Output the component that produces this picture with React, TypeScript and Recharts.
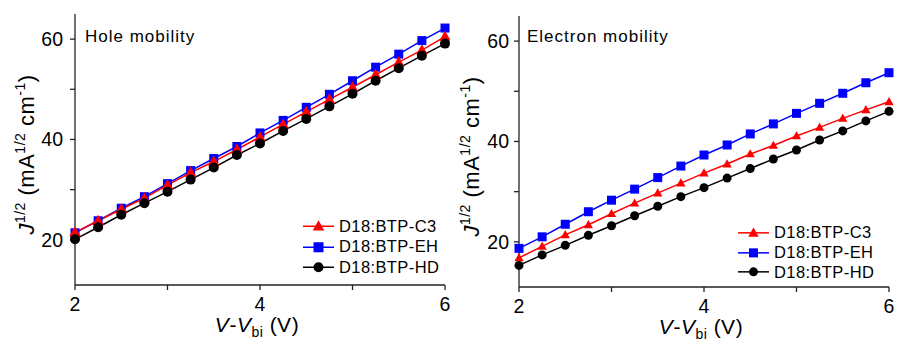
import React from 'react';
import { LineChart, Line, XAxis, YAxis, Legend } from 'recharts';

const FONT = '"Liberation Sans", Arial, sans-serif';

// bias voltage V - Vbi (V)
const voltages = [2, 2.25, 2.5, 2.75, 3, 3.25, 3.5, 3.75, 4, 4.25, 4.5, 4.75, 5, 5.25, 5.5, 5.75, 6];

// hole-only devices, J^1/2
const holeC3 = [21.5, 23.8, 26.1, 28.3, 30.9, 33.4, 35.6, 38.0, 40.5, 43.0, 45.5, 48.0, 50.4, 52.9, 55.4, 57.8, 60.5];
const holeEH = [21.4, 23.8, 26.3, 28.6, 31.2, 33.8, 36.2, 38.6, 41.3, 43.8, 46.4, 49.0, 51.7, 54.4, 57.0, 59.7, 62.2];
const holeHD = [20.1, 22.5, 25.0, 27.3, 29.6, 32.0, 34.4, 36.9, 39.2, 41.7, 44.1, 46.6, 49.1, 51.7, 54.2, 56.7, 59.1];

// electron-only devices, J^1/2
const elecC3 = [16.8, 19.1, 21.4, 23.4, 25.6, 27.7, 29.7, 31.7, 33.7, 35.5, 37.5, 39.2, 41.1, 42.8, 44.6, 46.3, 47.9];
const elecEH = [18.7, 21.0, 23.5, 26.0, 28.3, 30.5, 32.8, 35.1, 37.3, 39.3, 41.5, 43.5, 45.6, 47.6, 49.6, 51.7, 53.7];
const elecHD = [15.3, 17.4, 19.3, 21.3, 23.2, 25.2, 27.1, 29.0, 30.8, 32.7, 34.6, 36.5, 38.3, 40.3, 42.1, 44.1, 46.0];

const xTicks = [2, 3, 4, 5, 6];
const yTicks = [20, 30, 40, 50, 60];

type Shape = 'triangle' | 'square' | 'circle';
const series = [
  { key: 'c3', name: 'D18:BTP-C3', color: '#ff0000', shape: 'triangle' as Shape },
  { key: 'eh', name: 'D18:BTP-EH', color: '#0000ff', shape: 'square' as Shape },
  { key: 'hd', name: 'D18:BTP-HD', color: '#000000', shape: 'circle' as Shape },
];
// draw order: blue under red under black
const drawOrder = ['eh', 'c3', 'hd'];

const marker = (shape: Shape, cx: number, cy: number, s: number, color: string, key?: any) => {
  if (shape === 'square') {
    return <rect key={key} x={cx - s / 2} y={cy - s / 2} width={s} height={s} fill={color} />;
  }
  if (shape === 'circle') {
    return <circle key={key} cx={cx} cy={cy} r={s / 2} fill={color} />;
  }
  return (
    <polygon
      key={key}
      points={`${cx},${cy - s * 0.6} ${cx - s * 0.58},${cy + s * 0.42} ${cx + s * 0.58},${cy + s * 0.42}`}
      fill={color}
    />
  );
};

const makeDot = (shape: Shape, color: string, s: number) => (props: any) => {
  const { cx, cy, index } = props;
  if (cx == null || cy == null) return <g key={index} />;
  return marker(shape, cx, cy, s, color, index);
};

const YLabel = ({ x, cy }: { x: number; cy: number }) => (
  <text
    x={x}
    y={cy}
    transform={`rotate(-90, ${x}, ${cy})`}
    textAnchor="middle"
    fontFamily={FONT}
    fontSize={22}
    letterSpacing={0.5}
    fill="#000"
  >
    <tspan fontStyle="italic">J</tspan>
    <tspan fontSize={14} dy={-9}>1/2</tspan>
    <tspan dy={9}> (mA</tspan>
    <tspan fontSize={14} dy={-9}>1/2</tspan>
    <tspan dy={9}> cm</tspan>
    <tspan fontSize={14} dy={-9}>-1</tspan>
    <tspan dy={9}>)</tspan>
  </text>
);

const XLabel = ({ cx, y }: { cx: number; y: number }) => (
  <text x={cx} y={y} textAnchor="middle" fontFamily={FONT} fontSize={21} letterSpacing={0.5} fill="#000">
    <tspan fontStyle="italic">V</tspan>
    <tspan>-</tspan>
    <tspan fontStyle="italic">V</tspan>
    <tspan fontSize={14} dy={5}>bi</tspan>
    <tspan dy={-5}> (V)</tspan>
  </text>
);

const LegendBox = ({ size, rowH }: { size: number; rowH: number }) => (
  <div style={{ fontFamily: FONT, fontSize: 16.5, color: '#000' }}>
    {series.map((s) => (
      <div key={s.key} style={{ display: 'flex', alignItems: 'center', height: rowH }}>
        <svg width={31} height={rowH}>
          <line x1={0} y1={rowH / 2} x2={31} y2={rowH / 2} stroke={s.color} strokeWidth={1.5} />
          {marker(s.shape, 15.5, rowH / 2, size, s.color)}
        </svg>
        <span style={{ marginLeft: 5, letterSpacing: 0.4 }}>{s.name}</span>
      </div>
    ))}
  </div>
);

interface PanelProps {
  c3: number[];
  eh: number[];
  hd: number[];
  width: number;
  margin: { top: number; right: number; left: number; bottom: number };
  yAxisWidth: number;
  xAxisHeight: number;
  yTickMargin: number;
  yLabelX: number;
  xLabelY: number;
  legendPos: { left: number; top: number };
  legendRow: number;
  sizes: { [k: string]: number };
}

const Panel = (p: PanelProps) => {
  const data = voltages.map((v, i) => ({ v, c3: p.c3[i], eh: p.eh[i], hd: p.hd[i] }));
  const tickStyle = { fontFamily: FONT, fontSize: 19.5, fill: '#000' };
  return (
    <LineChart width={p.width} height={345} data={data} margin={p.margin}>
      <XAxis
        dataKey="v"
        type="number"
        domain={[2, 6]}
        ticks={xTicks}
        tickFormatter={(v: number) => (v % 2 === 0 ? String(v) : '')}
        height={p.xAxisHeight}
        tickSize={5}
        tickMargin={7}
        tick={tickStyle}
        stroke="#222"
        strokeWidth={1.3}
        label={{
          content: (lp: any) => {
            const vb = lp.viewBox;
            return <XLabel cx={vb.x + vb.width / 2 - 3} y={p.xLabelY} />;
          },
        }}
      />
      <XAxis xAxisId="top" orientation="top" type="number" domain={[2, 6]} height={0} tick={false} tickLine={false} stroke="#222" strokeWidth={1.3} />
      <YAxis
        type="number"
        domain={[11, 65]}
        ticks={yTicks}
        tickFormatter={(v: number) => (v % 20 === 0 ? String(v) : '')}
        width={p.yAxisWidth}
        tickSize={5}
        tickMargin={p.yTickMargin}
        tick={tickStyle}
        stroke="#222"
        strokeWidth={1.3}
        label={{
          content: (lp: any) => {
            const vb = lp.viewBox;
            return <YLabel x={p.yLabelX} cy={vb.y + vb.height / 2 + 5} />;
          },
        }}
      />
      <YAxis yAxisId="right" orientation="right" type="number" domain={[11, 65]} width={0} tick={false} tickLine={false} stroke="#222" strokeWidth={1.3} />
      {drawOrder.map((k) => {
        const s = series.find((x) => x.key === k)!;
        return (
          <Line
            key={k}
            dataKey={k}
            name={s.name}
            stroke={s.color}
            strokeWidth={1.5}
            dot={makeDot(s.shape, s.color, p.sizes[k])}
            activeDot={false}
            isAnimationActive={false}
            type="linear"
          />
        );
      })}
      <Legend
        layout="horizontal"
        verticalAlign="middle"
        align="center"
        content={() => <LegendBox size={p.sizes.legend} rowH={p.legendRow} />}
        wrapperStyle={{ left: p.legendPos.left, top: p.legendPos.top, width: 'auto', height: 'auto' }}
      />
    </LineChart>
  );
};

export default function App() {
  return (
    <div style={{ position: 'absolute', left: 0, top: 0, width: 897, height: 345, background: '#fff' }}>
      <div style={{ position: 'absolute', left: 0, top: 0 }}>
        <Panel
          c3={holeC3}
          eh={holeEH}
          hd={holeHD}
          width={450}
          margin={{ top: 14, right: 5, left: 0, bottom: 0 }}
          yAxisWidth={75}
          xAxisHeight={60}
          yTickMargin={7}
          yLabelX={34}
          xLabelY={332}
          legendPos={{ left: 303, top: 216 }}
          legendRow={20.5}
          sizes={{ c3: 10, eh: 9, hd: 10, legend: 10 }}
        />
      </div>
      <div style={{ position: 'absolute', left: 450, top: 0 }}>
        <Panel
          c3={elecC3}
          eh={elecEH}
          hd={elecHD}
          width={447}
          margin={{ top: 16, right: 8, left: 0, bottom: 0 }}
          yAxisWidth={69}
          xAxisHeight={58}
          yTickMargin={5}
          yLabelX={29}
          xLabelY={334}
          legendPos={{ left: 288, top: 223 }}
          legendRow={19.7}
          sizes={{ c3: 8, eh: 9, hd: 9, legend: 9 }}
        />
      </div>
      <svg width={897} height={345} style={{ position: 'absolute', left: 0, top: 0, pointerEvents: 'none' }}>
        <text x={85} y={42} fontFamily={FONT} fontSize={17} letterSpacing={1} fill="#000">Hole mobility</text>
        <text x={527} y={42} fontFamily={FONT} fontSize={17} letterSpacing={1} fill="#000">Electron mobility</text>
      </svg>
    </div>
  );
}
